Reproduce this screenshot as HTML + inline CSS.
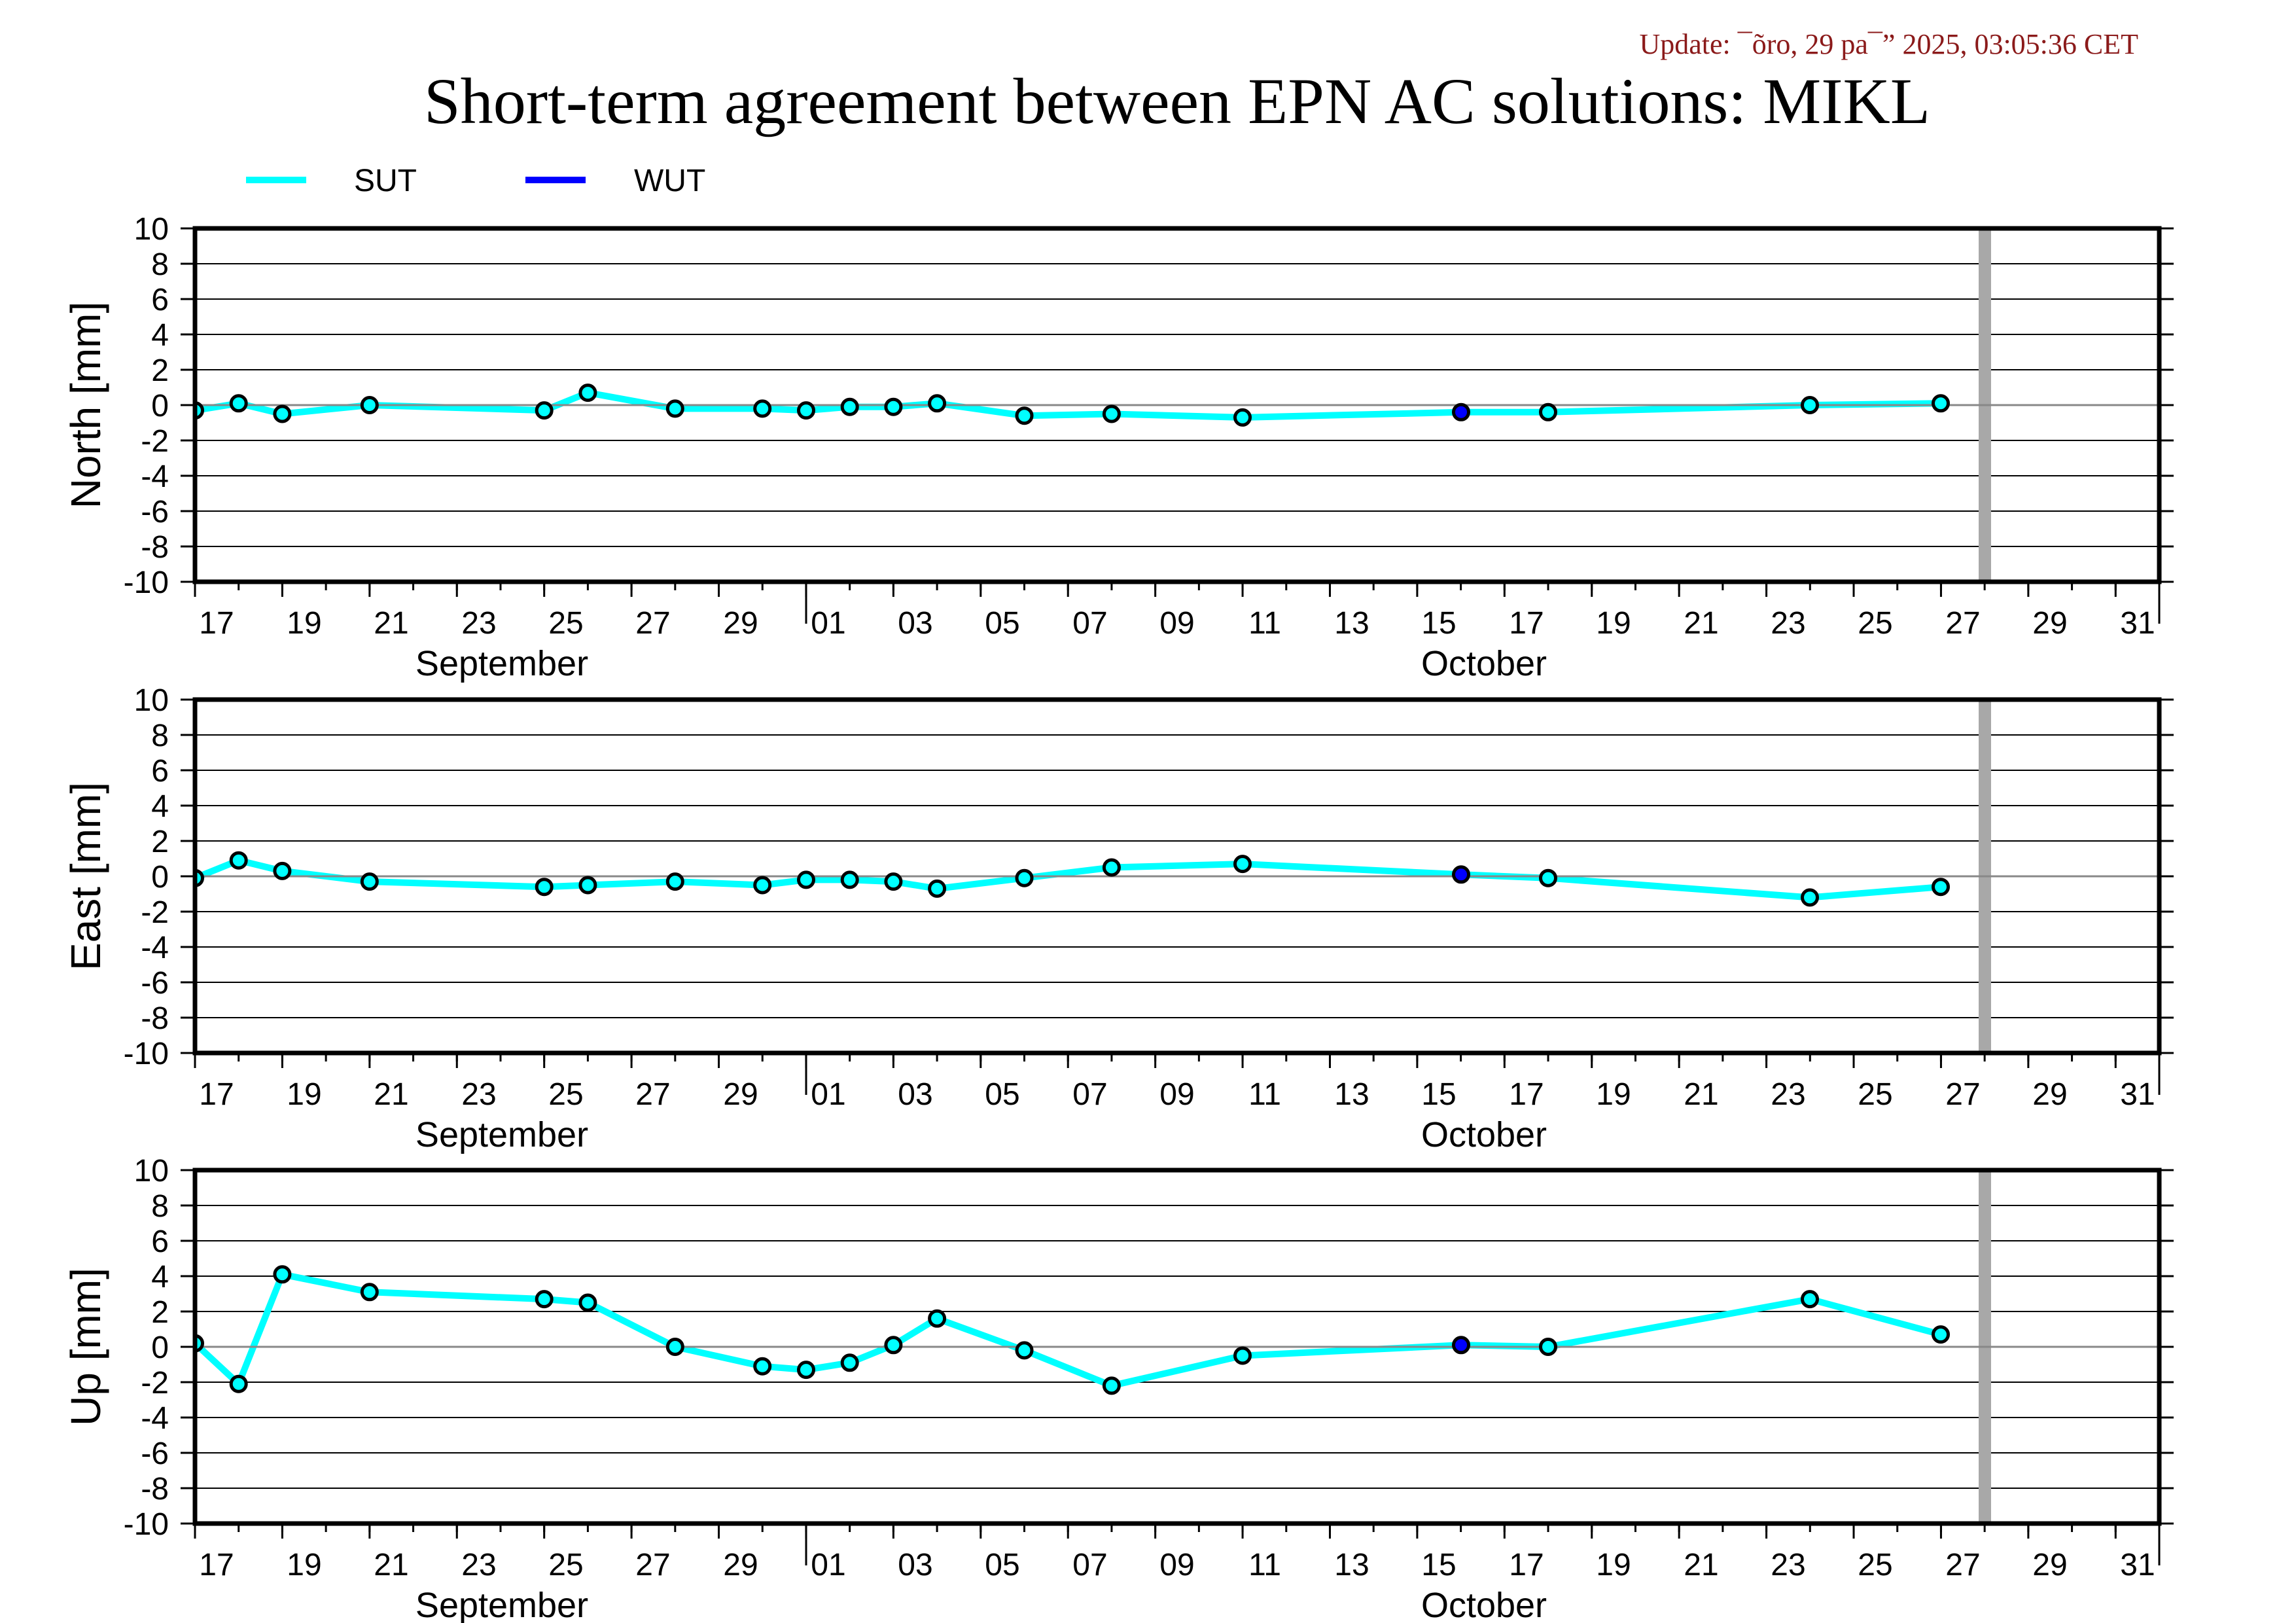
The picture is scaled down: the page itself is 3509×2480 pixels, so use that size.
<!DOCTYPE html>
<html><head><meta charset="utf-8"><style>html,body{margin:0;padding:0;background:#fff}svg{display:block}</style></head>
<body>
<svg xmlns="http://www.w3.org/2000/svg" width="3509" height="2480" viewBox="0 0 3509 2480">
<defs>
<pattern id="ts" patternUnits="userSpaceOnUse" x="296.5" y="0" width="66.711" height="3000"><rect x="0" y="540" width="3" height="13" fill="#000"/></pattern>
<pattern id="tl" patternUnits="userSpaceOnUse" x="296.5" y="0" width="133.422" height="3000"><rect x="0" y="540" width="3" height="23" fill="#000"/></pattern>
<pattern id="tr" patternUnits="userSpaceOnUse" x="0" y="-1.5" width="100" height="54"><rect x="0" y="0" width="100" height="3" fill="#000"/></pattern>
<clipPath id="cp"><rect x="298" y="0" width="3002" height="540"/></clipPath>
</defs>
<rect width="3509" height="2480" fill="#fff"/>
<text x="3268" y="82" text-anchor="end" font-family="Liberation Serif, serif" font-size="44" fill="#8b1a1a">Update: ¯õro, 29 pa¯” 2025, 03:05:36 CET</text>
<text x="648" y="188" textLength="2302" lengthAdjust="spacingAndGlyphs" font-family="Liberation Serif, serif" font-size="100" fill="#000">Short-term agreement between EPN AC solutions: MIKL</text>
<rect x="376" y="270" width="92" height="10" fill="#00ffff"/>
<text x="541" y="292" font-family="Liberation Sans, sans-serif" font-size="48">SUT</text>
<rect x="803" y="270" width="92" height="10" fill="#0000ff"/>
<text x="969" y="292" font-family="Liberation Sans, sans-serif" font-size="48">WUT</text>

<!-- PANEL 1 -->
<g transform="translate(0,349)">
<g stroke="#000" stroke-width="2"><line x1="298" x2="3300" y1="54" y2="54"/><line x1="298" x2="3300" y1="108" y2="108"/><line x1="298" x2="3300" y1="162" y2="162"/><line x1="298" x2="3300" y1="216" y2="216"/><line x1="298" x2="3300" y1="324" y2="324"/><line x1="298" x2="3300" y1="378" y2="378"/><line x1="298" x2="3300" y1="432" y2="432"/><line x1="298" x2="3300" y1="486" y2="486"/></g>
<rect x="3024" y="0" width="19" height="540" fill="#a8a8a8"/>
<g clip-path="url(#cp)">
<polyline fill="none" stroke="#00ffff" stroke-width="10" stroke-linejoin="round" points="298,278.1 364.7,267.3 431.4,283.5 564.8,270 831.7,278.1 898.4,251.1 1031.8,275.4 1165.2,275.4 1232,278.1 1298.7,272.7 1365.4,272.7 1432.1,267.3 1565.5,286.2 1698.9,283.5 1899,288.9 2233,280.8 2366,280.8 2766,270 2966,267.3"/>
<line x1="298" x2="3300" y1="270" y2="270" stroke="#888" stroke-width="3"/>
<g stroke="#000" stroke-width="5" fill="#00ffff"><circle cx="298" cy="278.1" r="11.5"/><circle cx="364.7" cy="267.3" r="11.5"/><circle cx="431.4" cy="283.5" r="11.5"/><circle cx="564.8" cy="270" r="11.5"/><circle cx="831.7" cy="278.1" r="11.5"/><circle cx="898.4" cy="251.1" r="11.5"/><circle cx="1031.8" cy="275.4" r="11.5"/><circle cx="1165.2" cy="275.4" r="11.5"/><circle cx="1232" cy="278.1" r="11.5"/><circle cx="1298.7" cy="272.7" r="11.5"/><circle cx="1365.4" cy="272.7" r="11.5"/><circle cx="1432.1" cy="267.3" r="11.5"/><circle cx="1565.5" cy="286.2" r="11.5"/><circle cx="1698.9" cy="283.5" r="11.5"/><circle cx="1899" cy="288.9" r="11.5"/><circle cx="2233" cy="280.8" r="11.5" fill="#0000ff"/><circle cx="2366" cy="280.8" r="11.5"/><circle cx="2766" cy="270" r="11.5"/><circle cx="2966" cy="267.3" r="11.5"/></g>
</g>
<rect x="276" y="-1.5" width="22" height="543" fill="url(#tr)"/>
<rect x="3300" y="-1.5" width="22" height="543" fill="url(#tr)"/>
<rect x="296" y="540" width="3010" height="13" fill="url(#ts)"/>
<rect x="296" y="540" width="3010" height="23" fill="url(#tl)"/>
<rect x="1230.5" y="540" width="3" height="64" fill="#000"/><rect x="3298.5" y="540" width="3" height="64" fill="#000"/>
<rect x="298" y="0" width="3002" height="540" fill="none" stroke="#000" stroke-width="7"/>
<g font-family="Liberation Sans, sans-serif" font-size="48" text-anchor="end"><text x="258" y="17">10</text><text x="258" y="71">8</text><text x="258" y="125">6</text><text x="258" y="179">4</text><text x="258" y="233">2</text><text x="258" y="287">0</text><text x="258" y="341">-2</text><text x="258" y="395">-4</text><text x="258" y="449">-6</text><text x="258" y="503">-8</text><text x="258" y="557">-10</text></g>
<g font-family="Liberation Sans, sans-serif" font-size="48" text-anchor="middle"><text x="331" y="619">17</text><text x="465" y="619">19</text><text x="598" y="619">21</text><text x="732" y="619">23</text><text x="865" y="619">25</text><text x="998" y="619">27</text><text x="1132" y="619">29</text><text x="1266" y="619">01</text><text x="1399" y="619">03</text><text x="1532" y="619">05</text><text x="1666" y="619">07</text><text x="1799" y="619">09</text><text x="1933" y="619">11</text><text x="2066" y="619">13</text><text x="2199" y="619">15</text><text x="2333" y="619">17</text><text x="2466" y="619">19</text><text x="2600" y="619">21</text><text x="2733" y="619">23</text><text x="2866" y="619">25</text><text x="3000" y="619">27</text><text x="3133" y="619">29</text><text x="3267" y="619">31</text><text x="767" y="683" font-size="54">September</text><text x="2268" y="683" font-size="54">October</text></g>
<text transform="translate(153,270) rotate(-90)" text-anchor="middle" font-family="Liberation Sans, sans-serif" font-size="64">North [mm]</text>
</g>

<!-- PANEL 2 -->
<g transform="translate(0,1069)">
<g stroke="#000" stroke-width="2"><line x1="298" x2="3300" y1="54" y2="54"/><line x1="298" x2="3300" y1="108" y2="108"/><line x1="298" x2="3300" y1="162" y2="162"/><line x1="298" x2="3300" y1="216" y2="216"/><line x1="298" x2="3300" y1="324" y2="324"/><line x1="298" x2="3300" y1="378" y2="378"/><line x1="298" x2="3300" y1="432" y2="432"/><line x1="298" x2="3300" y1="486" y2="486"/></g>
<rect x="3024" y="0" width="19" height="540" fill="#a8a8a8"/>
<g clip-path="url(#cp)">
<polyline fill="none" stroke="#00ffff" stroke-width="10" stroke-linejoin="round" points="298,272.7 364.7,245.7 431.4,261.9 564.8,278.1 831.7,286.2 898.4,283.5 1031.8,278.1 1165.2,283.5 1232,275.4 1298.7,275.4 1365.4,278.1 1432.1,288.9 1565.5,272.7 1698.9,256.5 1899,251.1 2233,267.3 2366,272.7 2766,302.4 2966,286.2"/>
<line x1="298" x2="3300" y1="270" y2="270" stroke="#888" stroke-width="3"/>
<g stroke="#000" stroke-width="5" fill="#00ffff"><circle cx="298" cy="272.7" r="11.5"/><circle cx="364.7" cy="245.7" r="11.5"/><circle cx="431.4" cy="261.9" r="11.5"/><circle cx="564.8" cy="278.1" r="11.5"/><circle cx="831.7" cy="286.2" r="11.5"/><circle cx="898.4" cy="283.5" r="11.5"/><circle cx="1031.8" cy="278.1" r="11.5"/><circle cx="1165.2" cy="283.5" r="11.5"/><circle cx="1232" cy="275.4" r="11.5"/><circle cx="1298.7" cy="275.4" r="11.5"/><circle cx="1365.4" cy="278.1" r="11.5"/><circle cx="1432.1" cy="288.9" r="11.5"/><circle cx="1565.5" cy="272.7" r="11.5"/><circle cx="1698.9" cy="256.5" r="11.5"/><circle cx="1899" cy="251.1" r="11.5"/><circle cx="2233" cy="267.3" r="11.5" fill="#0000ff"/><circle cx="2366" cy="272.7" r="11.5"/><circle cx="2766" cy="302.4" r="11.5"/><circle cx="2966" cy="286.2" r="11.5"/></g>
</g>
<rect x="276" y="-1.5" width="22" height="543" fill="url(#tr)"/>
<rect x="3300" y="-1.5" width="22" height="543" fill="url(#tr)"/>
<rect x="296" y="540" width="3010" height="13" fill="url(#ts)"/>
<rect x="296" y="540" width="3010" height="23" fill="url(#tl)"/>
<rect x="1230.5" y="540" width="3" height="64" fill="#000"/><rect x="3298.5" y="540" width="3" height="64" fill="#000"/>
<rect x="298" y="0" width="3002" height="540" fill="none" stroke="#000" stroke-width="7"/>
<g font-family="Liberation Sans, sans-serif" font-size="48" text-anchor="end"><text x="258" y="17">10</text><text x="258" y="71">8</text><text x="258" y="125">6</text><text x="258" y="179">4</text><text x="258" y="233">2</text><text x="258" y="287">0</text><text x="258" y="341">-2</text><text x="258" y="395">-4</text><text x="258" y="449">-6</text><text x="258" y="503">-8</text><text x="258" y="557">-10</text></g>
<g font-family="Liberation Sans, sans-serif" font-size="48" text-anchor="middle"><text x="331" y="619">17</text><text x="465" y="619">19</text><text x="598" y="619">21</text><text x="732" y="619">23</text><text x="865" y="619">25</text><text x="998" y="619">27</text><text x="1132" y="619">29</text><text x="1266" y="619">01</text><text x="1399" y="619">03</text><text x="1532" y="619">05</text><text x="1666" y="619">07</text><text x="1799" y="619">09</text><text x="1933" y="619">11</text><text x="2066" y="619">13</text><text x="2199" y="619">15</text><text x="2333" y="619">17</text><text x="2466" y="619">19</text><text x="2600" y="619">21</text><text x="2733" y="619">23</text><text x="2866" y="619">25</text><text x="3000" y="619">27</text><text x="3133" y="619">29</text><text x="3267" y="619">31</text><text x="767" y="683" font-size="54">September</text><text x="2268" y="683" font-size="54">October</text></g>
<text transform="translate(153,270) rotate(-90)" text-anchor="middle" font-family="Liberation Sans, sans-serif" font-size="64">East [mm]</text>
</g>

<!-- PANEL 3 -->
<g transform="translate(0,1788)">
<g stroke="#000" stroke-width="2"><line x1="298" x2="3300" y1="54" y2="54"/><line x1="298" x2="3300" y1="108" y2="108"/><line x1="298" x2="3300" y1="162" y2="162"/><line x1="298" x2="3300" y1="216" y2="216"/><line x1="298" x2="3300" y1="324" y2="324"/><line x1="298" x2="3300" y1="378" y2="378"/><line x1="298" x2="3300" y1="432" y2="432"/><line x1="298" x2="3300" y1="486" y2="486"/></g>
<rect x="3024" y="0" width="19" height="540" fill="#a8a8a8"/>
<g clip-path="url(#cp)">
<polyline fill="none" stroke="#00ffff" stroke-width="10" stroke-linejoin="round" points="298,264.6 364.7,326.7 431.4,159.3 564.8,186.3 831.7,197.1 898.4,202.5 1031.8,270 1165.2,299.7 1232,305.1 1298.7,294.3 1365.4,267.3 1432.1,226.8 1565.5,275.4 1698.9,329.4 1899,283.5 2233,267.3 2366,270 2766,197.1 2966,251.1"/>
<line x1="298" x2="3300" y1="270" y2="270" stroke="#888" stroke-width="3"/>
<g stroke="#000" stroke-width="5" fill="#00ffff"><circle cx="298" cy="264.6" r="11.5"/><circle cx="364.7" cy="326.7" r="11.5"/><circle cx="431.4" cy="159.3" r="11.5"/><circle cx="564.8" cy="186.3" r="11.5"/><circle cx="831.7" cy="197.1" r="11.5"/><circle cx="898.4" cy="202.5" r="11.5"/><circle cx="1031.8" cy="270" r="11.5"/><circle cx="1165.2" cy="299.7" r="11.5"/><circle cx="1232" cy="305.1" r="11.5"/><circle cx="1298.7" cy="294.3" r="11.5"/><circle cx="1365.4" cy="267.3" r="11.5"/><circle cx="1432.1" cy="226.8" r="11.5"/><circle cx="1565.5" cy="275.4" r="11.5"/><circle cx="1698.9" cy="329.4" r="11.5"/><circle cx="1899" cy="283.5" r="11.5"/><circle cx="2233" cy="267.3" r="11.5" fill="#0000ff"/><circle cx="2366" cy="270" r="11.5"/><circle cx="2766" cy="197.1" r="11.5"/><circle cx="2966" cy="251.1" r="11.5"/></g>
</g>
<rect x="276" y="-1.5" width="22" height="543" fill="url(#tr)"/>
<rect x="3300" y="-1.5" width="22" height="543" fill="url(#tr)"/>
<rect x="296" y="540" width="3010" height="13" fill="url(#ts)"/>
<rect x="296" y="540" width="3010" height="23" fill="url(#tl)"/>
<rect x="1230.5" y="540" width="3" height="64" fill="#000"/><rect x="3298.5" y="540" width="3" height="64" fill="#000"/>
<rect x="298" y="0" width="3002" height="540" fill="none" stroke="#000" stroke-width="7"/>
<g font-family="Liberation Sans, sans-serif" font-size="48" text-anchor="end"><text x="258" y="17">10</text><text x="258" y="71">8</text><text x="258" y="125">6</text><text x="258" y="179">4</text><text x="258" y="233">2</text><text x="258" y="287">0</text><text x="258" y="341">-2</text><text x="258" y="395">-4</text><text x="258" y="449">-6</text><text x="258" y="503">-8</text><text x="258" y="557">-10</text></g>
<g font-family="Liberation Sans, sans-serif" font-size="48" text-anchor="middle"><text x="331" y="619">17</text><text x="465" y="619">19</text><text x="598" y="619">21</text><text x="732" y="619">23</text><text x="865" y="619">25</text><text x="998" y="619">27</text><text x="1132" y="619">29</text><text x="1266" y="619">01</text><text x="1399" y="619">03</text><text x="1532" y="619">05</text><text x="1666" y="619">07</text><text x="1799" y="619">09</text><text x="1933" y="619">11</text><text x="2066" y="619">13</text><text x="2199" y="619">15</text><text x="2333" y="619">17</text><text x="2466" y="619">19</text><text x="2600" y="619">21</text><text x="2733" y="619">23</text><text x="2866" y="619">25</text><text x="3000" y="619">27</text><text x="3133" y="619">29</text><text x="3267" y="619">31</text><text x="767" y="683" font-size="54">September</text><text x="2268" y="683" font-size="54">October</text></g>
<text transform="translate(153,270) rotate(-90)" text-anchor="middle" font-family="Liberation Sans, sans-serif" font-size="64">Up [mm]</text>
</g>
</svg>
</body></html>
